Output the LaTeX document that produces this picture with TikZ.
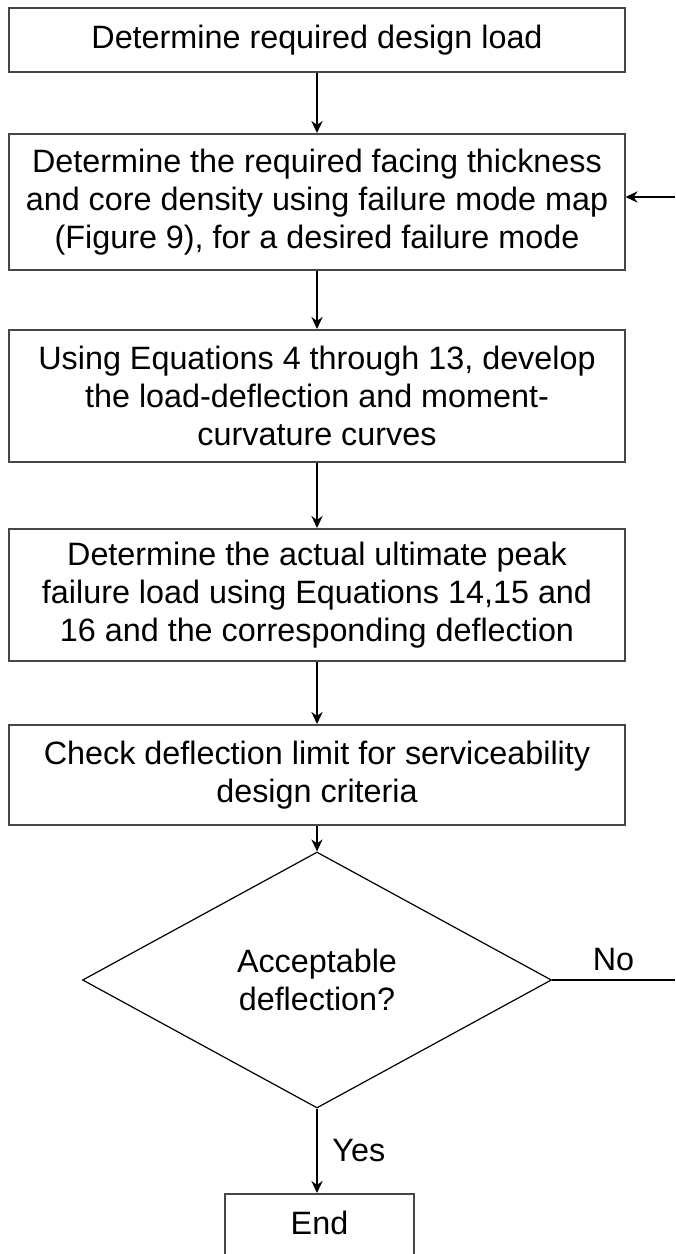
\documentclass[tikz,border=0pt]{standalone}
\usepackage{fontspec}
\setmainfont{Liberation Sans}
\usetikzlibrary{shapes.geometric,arrows.meta}
\definecolor{boxline}{RGB}{70,70,70}
\tikzset{
  stepbox/.style={draw=boxline, line width=0.5mm, minimum width=153.75mm, align=center, inner sep=0pt},
  flow/.style={-{Stealth[length=3mm,width=2.8mm]}, line width=0.4mm},
}
\begin{document}
\begin{tikzpicture}[x=0.25mm, y=-0.25mm, every node/.append style={font=\fontsize{23}{27}\selectfont}]
  \useasboundingbox (0,0) rectangle (675,1254);
  \clip (0,0) rectangle (675,1254);
  \node[stepbox, minimum height=16mm] (load) at (317,40) {Determine required design load};
  \node[stepbox, minimum height=34mm] (facing) at (317,202) {Determine the required facing thickness\\and core density using failure mode map\\(Figure 9), for a desired failure mode};
  \node[stepbox, minimum height=33mm] (curves) at (317,396) {Using Equations 4 through 13, develop\\the load-deflection and moment-\\curvature curves};
  \node[stepbox, minimum height=33mm] (peak) at (317,595) {Determine the actual ultimate peak\\failure load using Equations 14,15 and\\16 and the corresponding deflection};
  \node[stepbox, minimum height=25mm] (limit) at (317,775) {Check deflection limit for serviceability\\design criteria};
  \node[draw, shape=diamond, line width=0.3mm, minimum width=117.25mm, minimum height=64mm, inner sep=0pt, align=center] (accept) at (317,980) {Acceptable\\deflection?};
  \node[draw=boxline, line width=0.5mm, minimum width=47.25mm, minimum height=20mm, text height=5.8mm, text depth=5.5mm, anchor=north] (end) at (319.5,1193) {End};
  \coordinate (back) at (675,197);
  \coordinate (no) at (675,980);
  \draw[flow] (load) -- (facing);
  \draw[flow] (facing) -- (curves);
  \draw[flow] (curves) -- (peak);
  \draw[flow] (peak) -- (limit);
  \draw[flow] (limit) -- (accept);
  \draw[flow] (accept) -- node[right=2.5mm] {Yes} (end.north -| accept);
  \draw[line width=0.4mm] (accept.east) -- node[above=1mm] {No} (no);
  \draw[flow] (back) -- (back -| facing.east);
\end{tikzpicture}
\end{document}
